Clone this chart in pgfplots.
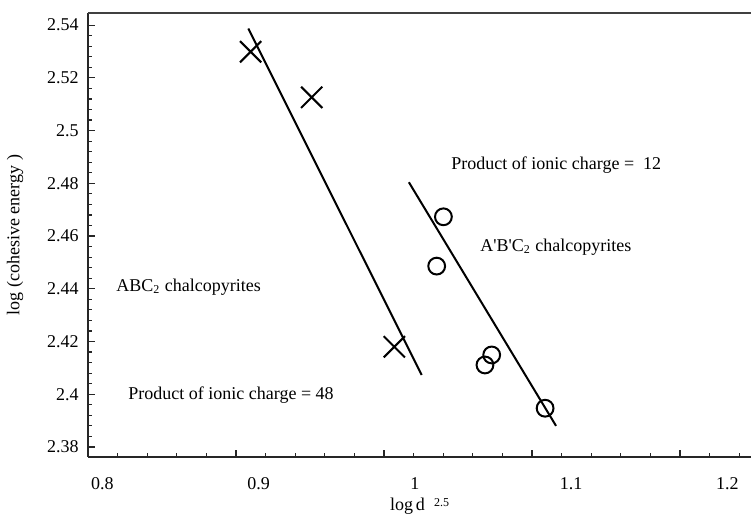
\documentclass[border=0pt]{standalone}
\usepackage{pgfplots}
\pgfplotsset{compat=1.18}
\usepackage{fontspec}
\setmainfont{Liberation Serif}

\begin{document}
\begin{tikzpicture}
\fontsize{9}{11}\selectfont
\begin{axis}[
  name=ax,
  scale only axis,
  width=331.5pt, height=222pt,
  xmin=0.7908, xmax=1.2152,
  ymin=2.3762, ymax=2.5446,
  axis x line*=bottom, axis y line*=left,
  axis line style={-, line width=0.9pt, black!85},
  tick align=inside,
  tick style={line width=0.6pt, black!85},
  major tick length=3.5pt, minor tick length=2.2pt,
  % tick marks sit where the scan has them, the labels are placed separately
  xtick={0.88553,0.98028,1.07503,1.16978},
  xticklabels={},
  minor xtick={0.80973,0.82868,0.84763,0.86658,0.90448,0.92343,0.94238,0.96133,
    0.99923,1.01818,1.03713,1.05608,1.09398,1.11293,1.13188,1.15083,1.18873,1.20768},
  extra x ticks={0.8,0.9,1,1.1,1.2},
  extra x tick labels={0.8,0.9,1,1.1,1.2},
  extra x tick style={tick style={draw=none}},
  xticklabel style={yshift=-7pt},
  ytick={2.38,2.4,2.42,2.44,2.46,2.48,2.5,2.52,2.54},
  minor y tick num=4,
  yticklabel style={xshift=-1.5pt},
  /pgf/number format/assume math mode=true,
  xlabel={log\,d\ \ \raisebox{0.55ex}{\fontsize{6}{7}\selectfont 2.5}},
  xlabel style={at={(axis description cs:0.5,-0.1216)}, anchor=base},
  ylabel={log (cohesive energy )},
  ylabel style={at={(axis description cs:-0.110,0.5)}, anchor=center},
  clip=false,
]
\draw[line width=1pt, black!75] (rel axis cs:0,1) -- (rel axis cs:1,1);

% fitted lines
\addplot[line width=1pt, no markers] coordinates {(0.8934,2.5387) (1.0044,2.4073)};
\addplot[line width=1pt, no markers] coordinates {(0.9962,2.4804) (1.0904,2.3880)};

% ABC2 chalcopyrites
\addplot[only marks, mark=x, mark size=7.5pt, line width=1pt] coordinates {
  (0.8949,2.5299) (0.9340,2.5126) (0.9869,2.4180)
};
% A'B'C2 chalcopyrites
\addplot[only marks, mark=o, mark size=4.2pt, line width=1pt] coordinates {
  (1.0183,2.4673) (1.0140,2.4486) (1.0492,2.4149) (1.0449,2.4111) (1.0834,2.3947)
};

\node[anchor=west, inner sep=0pt] at (axis cs:1.0232,2.4869) {Product of ionic charge =\ \ 12};
\node[anchor=west, inner sep=0pt] at (axis cs:1.0417,2.4558) {A\textquotesingle B\textquotesingle C\textsubscript{2} chalcopyrites};
\node[anchor=west, inner sep=0pt] at (axis cs:0.8087,2.4407) {ABC\textsubscript{2} chalcopyrites};
\node[anchor=west, inner sep=0pt] at (axis cs:0.8164,2.3997) {Product of ionic charge = 48};
\end{axis}
\pgfresetboundingbox
\path ([shift={(-44pt,-29.5pt)}]ax.south west) rectangle ([shift={(0pt,6.5pt)}]ax.north east);
\end{tikzpicture}
\end{document}
